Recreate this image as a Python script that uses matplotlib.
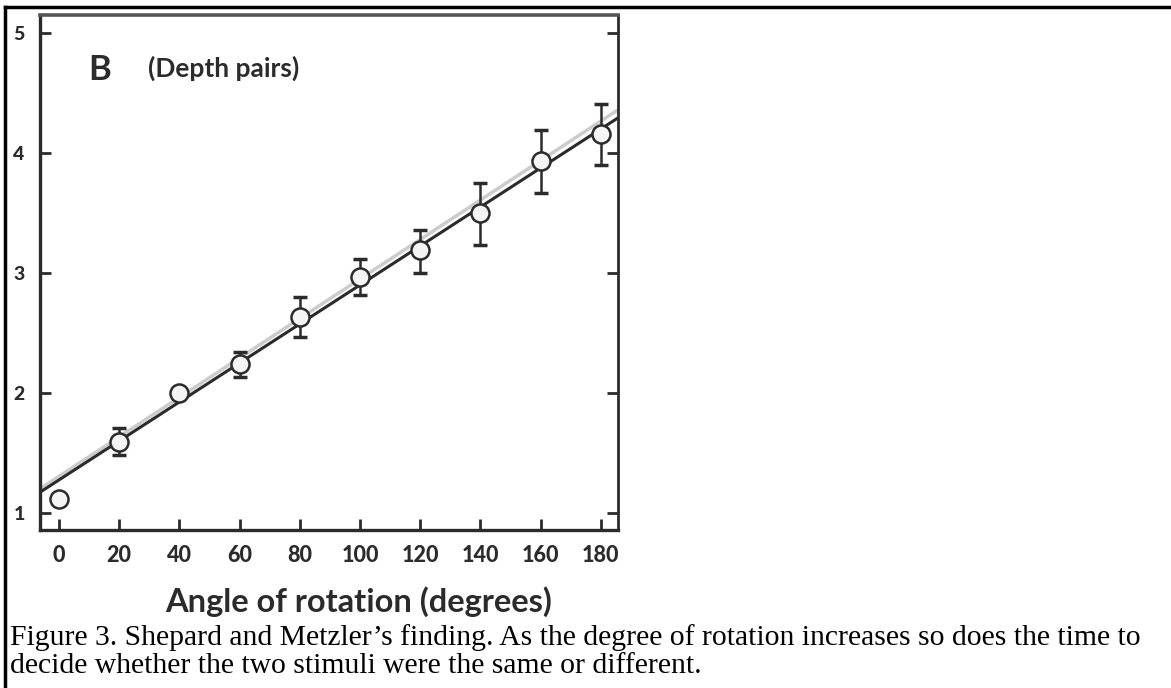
import matplotlib
matplotlib.use("Agg")
import matplotlib.pyplot as plt
from matplotlib.lines import Line2D
import numpy as np

# data (Shepard & Metzler, depth pairs)
angles = [0, 20, 40, 60, 80, 100, 120, 140, 160, 180]
mean_rt = [1.12, 1.59, 2.00, 2.24, 2.63, 2.97, 3.19, 3.50, 3.93, 4.16]
err_low = [0.00, 0.11, 0.00, 0.11, 0.16, 0.15, 0.19, 0.27, 0.26, 0.26]
err_high = [0.00, 0.12, 0.00, 0.10, 0.17, 0.15, 0.17, 0.25, 0.26, 0.25]
fit_intercept = 1.275
fit_slope = 0.01625

x_ticks = [0, 20, 40, 60, 80, 100, 120, 140, 160, 180]
y_ticks = [1, 2, 3, 4, 5]

caption_lines = [
    "Figure 3. Shepard and Metzler\u2019s finding. As the degree of rotation increases so does the time to",
    "decide whether the two stimuli were the same or different.",
]

ink = "#2b2b2b"
W, H = 1171, 688
fig = plt.figure(figsize=(W / 100, H / 100), dpi=100)
fig.patch.set_facecolor("white")

ax = fig.add_axes([40 / W, 1 - 530 / H, 578 / W, 515 / H])
ax.set_xlim(-6.3, 185.7)
ax.set_ylim(0.858, 5.15)

# fitted line (with the faint grey double seen in the scan)
fx = np.array(ax.get_xlim())
ax.plot(fx, fit_intercept + 0.03 + (fit_slope + 0.0002) * fx, color="#9a9a9a", lw=2.5, alpha=0.5, zorder=2)
ax.plot(fx, fit_intercept + fit_slope * fx, color=ink, lw=2.2, zorder=3)

ax.errorbar(angles, mean_rt, yerr=[err_low, err_high], fmt="none", ecolor=ink,
            elinewidth=1.8, capsize=5, capthick=2.5, zorder=4)
ax.plot(angles, mean_rt, "o", ms=13, mfc="#f4f4f4", mec=ink, mew=1.8, zorder=5)

for side in ["left", "right", "top", "bottom"]:
    ax.spines[side].set_color(ink)
ax.spines["left"].set_linewidth(2.4)
ax.spines["bottom"].set_linewidth(2.4)
ax.spines["right"].set_linewidth(2.0)
ax.spines["top"].set_linewidth(2.6)
ax.spines["top"].set_color("#555555")

ax.set_xticks(x_ticks)
ax.set_yticks(y_ticks)
ax.tick_params(axis="both", direction="in", length=8, width=2, color=ink,
               labelcolor=ink, right=True, top=False)
ax.tick_params(axis="x", pad=11)
ax.tick_params(axis="y", pad=11)
for lab in ax.get_xticklabels():
    lab.set_fontfamily("Lato")
    lab.set_fontweight("black")
    lab.set_fontsize(15.5)
for lab in ax.get_yticklabels():
    lab.set_fontfamily("Lato")
    lab.set_fontweight("black")
    lab.set_fontsize(14)

fig.text(88 / W, 1 - 80 / H, "B", fontfamily="Lato", fontweight="bold", fontsize=25,
         color=ink, ha="left", va="baseline")
fig.text(148 / W, 1 - 77 / H, "(Depth pairs)", fontfamily="Lato", fontweight="bold",
         fontsize=19, color=ink, ha="left", va="baseline")
fig.text(359 / W, 1 - 612 / H, "Angle of rotation (degrees)", fontfamily="Lato",
         fontweight="bold", fontsize=23.5, color=ink, ha="center", va="baseline")

# caption
fig.text(10 / W, 1 - 645 / H, caption_lines[0], fontfamily="Liberation Serif",
         fontsize=21.3, color="black", ha="left", va="baseline")
fig.text(10 / W, 1 - 673 / H, caption_lines[1], fontfamily="Liberation Serif",
         fontsize=21.3, color="black", ha="left", va="baseline")

# outer frame (top and left border of the table cell)
fig.add_artist(Line2D([5 / W, 1], [1 - 7 / H, 1 - 7 / H], color="black", lw=2.5,
                      transform=fig.transFigure))
fig.add_artist(Line2D([5 / W, 5 / W], [0, 1 - 7 / H], color="black", lw=2.5,
                      transform=fig.transFigure))

fig.savefig("out.png", dpi=100)
